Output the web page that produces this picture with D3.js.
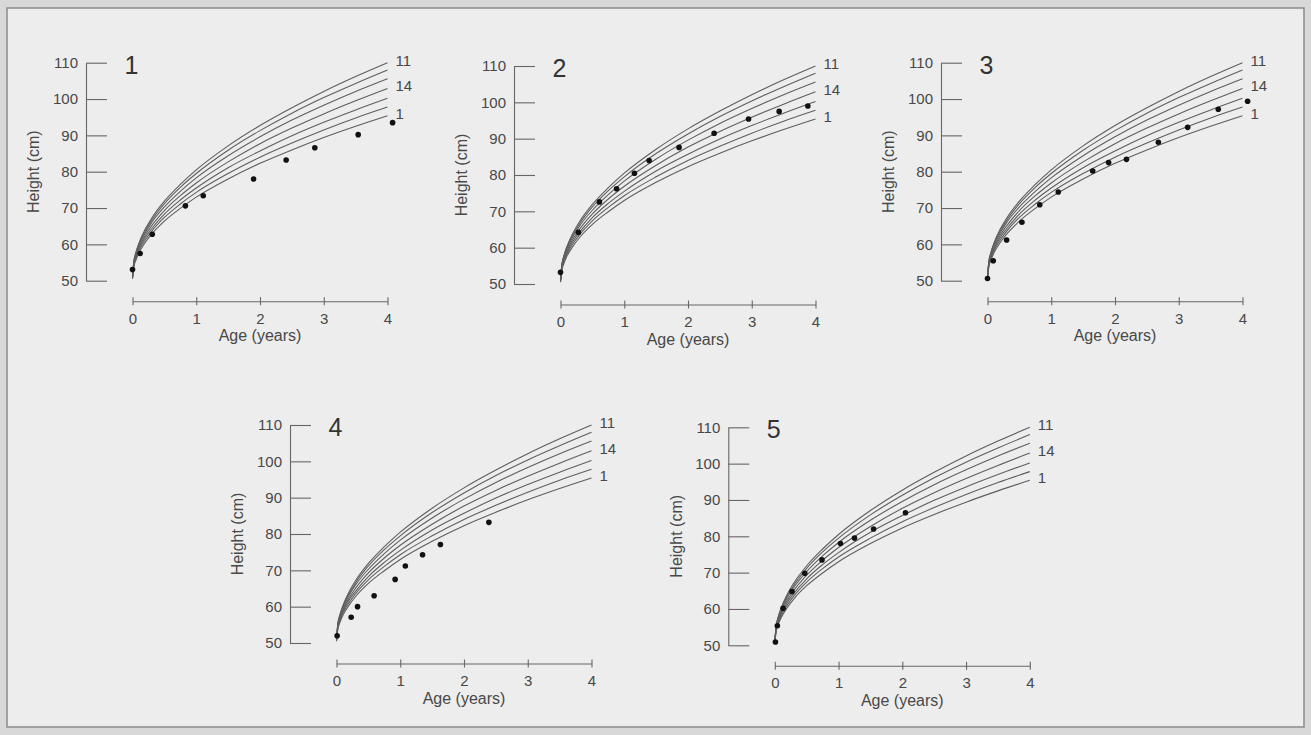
<!DOCTYPE html>
<html><head><meta charset="utf-8">
<script src="https://cdn.jsdelivr.net/npm/d3@7"></script>
<style>
html,body{margin:0;padding:0;background:#d8d8d8;}
svg{display:block;}
</style></head>
<body>
<svg id="chart" width="1311" height="735"></svg>
<script>
// ---- data ----
const ages = [0, 0.02, 0.05, 0.1, 0.2, 0.3, 0.5, 0.75, 1, 1.5, 2, 2.5, 3, 3.5, 4];
const curveA = [51.0, 55.2, 57.6, 60.3, 64.2, 67.2, 71.9, 76.5, 80.5, 87.1, 92.7, 97.6, 102.1, 106.2, 110.0];
const curveB = [51.0, 55.0, 57.4, 60.0, 63.7, 66.6, 71.2, 75.7, 79.5, 85.9, 91.3, 96.1, 100.4, 104.3, 108.0];
const curveC = [51.0, 54.9, 57.1, 59.6, 63.2, 66.0, 70.3, 74.6, 78.3, 84.4, 89.6, 94.2, 98.3, 102.1, 105.6];
const curveD = [50.9, 54.6, 56.7, 59.1, 62.5, 65.1, 69.3, 73.4, 76.9, 82.7, 87.7, 92.0, 95.9, 99.5, 102.9];
const curveE = [50.8, 54.3, 56.3, 58.6, 61.9, 64.3, 68.3, 72.2, 75.5, 81.1, 85.7, 89.9, 93.6, 97.0, 100.2];
const curveF = [50.7, 54.0, 56.0, 58.2, 61.2, 63.6, 67.4, 71.1, 74.3, 79.5, 84.0, 87.9, 91.5, 94.8, 97.8];
const curveG = [50.5, 53.7, 55.5, 57.6, 60.5, 62.8, 66.4, 69.9, 73.0, 78.0, 82.3, 86.0, 89.4, 92.5, 95.4];
const curveLabels = ["11", "", "", "14", "", "", "1"];

const panelNames = ["1", "2", "3", "4", "5"];
const p1Ages = [0, 0.12, 0.31, 0.83, 1.11, 1.90, 2.41, 2.86, 3.54, 4.08];
const p1Heights = [53.1, 57.5, 62.8, 70.6, 73.4, 78.0, 83.2, 86.6, 90.2, 93.5];
const p2Ages = [0, 0.28, 0.61, 0.88, 1.16, 1.39, 1.86, 2.41, 2.95, 3.43, 3.88];
const p2Heights = [53.2, 64.2, 72.6, 76.2, 80.5, 84.0, 87.6, 91.5, 95.4, 97.5, 99.0];
const p3Ages = [0, 0.09, 0.30, 0.54, 0.82, 1.11, 1.65, 1.90, 2.18, 2.68, 3.14, 3.62, 4.08];
const p3Heights = [50.6, 55.5, 61.2, 66.1, 70.9, 74.4, 80.2, 82.5, 83.4, 88.1, 92.2, 97.2, 99.4];
const p4Ages = [0.01, 0.23, 0.33, 0.59, 0.92, 1.08, 1.35, 1.63, 2.39];
const p4Heights = [52.0, 57.1, 60.0, 63.0, 67.5, 71.2, 74.3, 77.1, 83.2];
const p5Ages = [0.01, 0.04, 0.13, 0.27, 0.47, 0.74, 1.03, 1.25, 1.55, 2.05];
const p5Heights = [50.9, 55.4, 60.2, 64.8, 69.8, 73.5, 78.0, 79.5, 82.0, 86.5];

const yTicks = [50, 60, 70, 80, 90, 100, 110];
const xTicks = [0, 1, 2, 3, 4];

// ---- layout ----
const panelPos = [
  {ax: 86, top: 62.7},
  {ax: 514, top: 66},
  {ax: 941, top: 62.7},
  {ax: 290, top: 425},
  {ax: 728.3, top: 427.3}
];
const plotW = 255, plotH = 218, xOff = 46.5, xAxisGap = 20.5;

const svg = d3.select("#chart");
svg.append("rect").attr("x", 7).attr("y", 8).attr("width", 1297).attr("height", 719)
  .attr("fill", "#ededed").attr("stroke", "#8a8a8a").attr("stroke-width", 1.5);

const curves = [curveA, curveB, curveC, curveD, curveE, curveF, curveG];
const pts = [[p1Ages, p1Heights], [p2Ages, p2Heights], [p3Ages, p3Heights], [p4Ages, p4Heights], [p5Ages, p5Heights]];
const font = "'Liberation Sans', Arial, sans-serif";
const ink = "#484848";

panelPos.forEach((p, i) => {
  const g = svg.append("g");
  const x = d3.scaleLinear().domain([0, 4]).range([p.ax + xOff, p.ax + xOff + plotW]);
  const y = d3.scaleLinear().domain([50, 110]).range([p.top + plotH, p.top]);
  const xAxisY = p.top + plotH + xAxisGap;

  // y axis
  const ya = g.append("g").attr("transform", `translate(${p.ax},0)`)
    .call(d3.axisLeft(y).tickValues(yTicks).tickFormat(d3.format("d"))
      .tickSizeInner(-21).tickSizeOuter(0).tickPadding(8));
  ya.selectAll("path,line").attr("stroke", "#666").attr("stroke-width", 1.1);
  ya.selectAll("text").attr("font-family", font).attr("font-size", 15).attr("fill", ink);

  // x axis
  const xa = g.append("g").attr("transform", `translate(0,${xAxisY})`)
    .call(d3.axisBottom(x).tickValues(xTicks).tickFormat(d3.format("d"))
      .tickSizeInner(4).tickSizeOuter(0).tickPadding(8));
  xa.selectAll("path").attr("stroke", "#666").attr("stroke-width", 1.1);
  xa.selectAll("line").attr("y1", -4).attr("stroke", "#666").attr("stroke-width", 1.1);
  xa.selectAll("text").attr("font-family", font).attr("font-size", 15).attr("fill", ink);

  // axis titles
  g.append("text").attr("transform", `translate(${p.ax - 51},${p.top + plotH / 2}) rotate(-90)`)
    .attr("text-anchor", "middle").attr("dominant-baseline", "middle")
    .attr("font-family", font).attr("font-size", 16).attr("fill", ink).text("Height (cm)");
  g.append("text").attr("x", p.ax + xOff + plotW / 2).attr("y", xAxisY + 40)
    .attr("text-anchor", "middle").attr("font-family", font).attr("font-size", 16)
    .attr("fill", ink).text("Age (years)");

  // panel number
  g.append("text").attr("x", p.ax + xOff - 8).attr("y", p.top + 11)
    .attr("font-family", font).attr("font-size", 25).attr("fill", "#333").text(panelNames[i]);

  // reference curves
  const line = d3.line().x((d, k) => x(ages[k])).y(d => y(d)).curve(d3.curveMonotoneX);
  curves.forEach((c, k) => {
    g.append("path").attr("d", line(c)).attr("fill", "none")
      .attr("stroke", "#5e5e5e").attr("stroke-width", 1.1);
    if (curveLabels[k]) {
      g.append("text").attr("x", x(4) + 8).attr("y", y(c[c.length - 1]) - 1)
        .attr("dominant-baseline", "middle").attr("font-family", font).attr("font-size", 15)
        .attr("fill", ink).text(curveLabels[k]);
    }
  });

  // patient points
  const [pa, ph] = pts[i];
  g.selectAll("circle.pt").data(pa).join("circle").attr("class", "pt")
    .attr("cx", d => x(d)).attr("cy", (d, k) => y(ph[k])).attr("r", 2.8).attr("fill", "#111");
});
</script>
</body></html>
